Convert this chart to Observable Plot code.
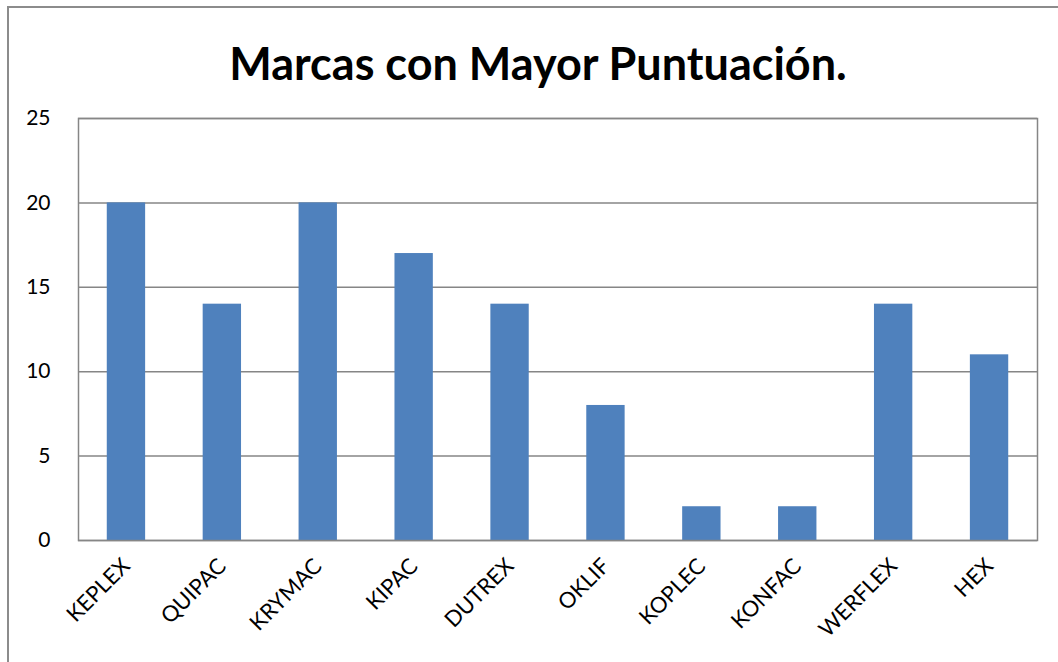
<!DOCTYPE html>
<html><head><meta charset="utf-8">
<script src="https://cdn.jsdelivr.net/npm/d3@7"></script>
<script src="https://cdn.jsdelivr.net/npm/@observablehq/plot@0.6"></script>
<style>
body{margin:0;background:#fff;}
#wrap{position:relative;width:1058px;height:662px;overflow:hidden;}
#border{position:absolute;left:7px;top:6px;width:1100px;height:700px;border-left:2px solid #8c8c8c;border-top:2px solid #8c8c8c;pointer-events:none;}
</style></head>
<body><div id="wrap"><div id="border"></div></div>
<script>
const title = "Marcas con Mayor Puntuación.";
const brands = ["KEPLEX","QUIPAC","KRYMAC","KIPAC","DUTREX","OKLIF","KOPLEC","KONFAC","WERFLEX","HEX"];
const scores = [20,14,20,17,14,8,2,2,14,11];
const yTicks = [0,5,10,15,20,25];
const data = brands.map((b,i)=>({brand:b, score:scores[i]}));
const font = "Lato, 'Open Sans', sans-serif";
const chart = Plot.plot({
  width:1058, height:662,
  marginLeft:78, marginTop:118, marginRight:21, marginBottom:122,
  style:{fontFamily:font, fontSize:"20px", color:"#000", background:"transparent"},
  x:{domain:brands, paddingInner:0.6, paddingOuter:0.3, round:false, label:null},
  y:{domain:[0,25], ticks:yTicks, label:null},
  marks:[
    Plot.gridY(yTicks,{stroke:"#868686", strokeOpacity:1, strokeWidth:1.5}),
    Plot.barY(data,{x:"brand", y:"score", fill:"#4F81BD"}),
    Plot.frame({stroke:"#868686", strokeWidth:1.5}),
    Plot.axisY({ticks:yTicks, tickSize:0, tickPadding:28, fontSize:21, label:null}),
    Plot.axisX({tickSize:0, tickRotate:-45, tickPadding:22, fontSize:22, label:null}),
    Plot.text([title],{frameAnchor:"top", dx:-20, dy:-70, text:d=>d, fontSize:45, fontWeight:"bold", fill:"#000"})
  ]
});
chart.style.position="absolute"; chart.style.left="0"; chart.style.top="0";
document.getElementById("wrap").appendChild(chart);
</script></body></html>
